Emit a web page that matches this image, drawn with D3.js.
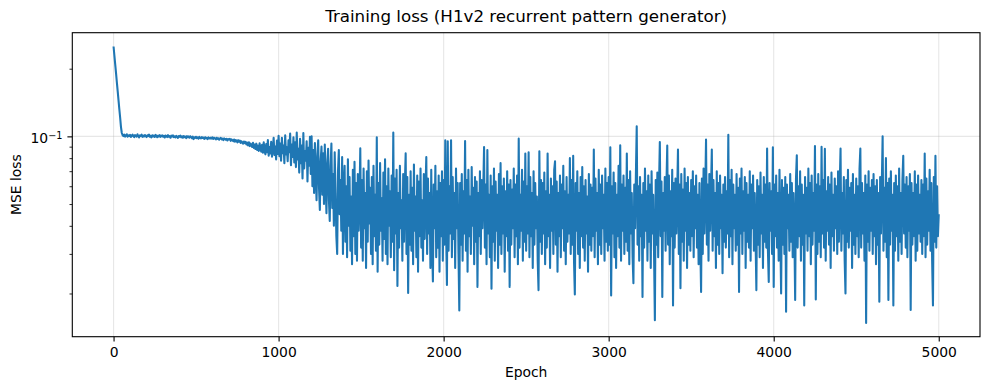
<!DOCTYPE html>
<html>
<head>
<meta charset="utf-8">
<script src="https://cdn.jsdelivr.net/npm/d3@7"></script>
<style>
	body { margin: 0; background: #fff; }
	svg { display: block; font-family: 'DejaVu Sans', sans-serif; }
</style>
</head>
<body>
<div id="chart"></div>
<script>
// Training loss, log scale

// one value every 5 epochs, epoch 0 .. 5000, one row = 100 epochs
var epochStep = 5;
var loss = [
	0.251, 0.229, 0.209, 0.191, 0.174, 0.159, 0.145, 0.132, 0.121, 0.110, 0.1035, 0.1012, 0.1003, 0.1018, 0.0998, 0.1009, 0.1022, 0.0996, 0.1011, 0.1003,
	0.1016, 0.0994, 0.1007, 0.1019, 0.1001, 0.0992, 0.1013, 0.1005, 0.0997, 0.1021, 0.1002, 0.0990, 0.1010, 0.1004, 0.1017, 0.0995, 0.1008, 0.0999, 0.1014, 0.1001,
	0.0993, 0.1011, 0.1003, 0.1018, 0.0996, 0.1006, 0.0989, 0.1012, 0.1000, 0.1009, 0.0994, 0.1015, 0.1002, 0.0991, 0.1008, 0.0999, 0.1013, 0.0995, 0.1004, 0.1010,
	0.0997, 0.1006, 0.0988, 0.1009, 0.1001, 0.0993, 0.1012, 0.0996, 0.1003, 0.0986, 0.1007, 0.0998, 0.1010, 0.0992, 0.1001, 0.0989, 0.1005, 0.0997, 0.0984, 0.1003,
	0.0995, 0.1008, 0.0990, 0.1000, 0.0986, 0.1004, 0.0993, 0.0998, 0.0983, 0.1002, 0.0991, 0.0999, 0.0987, 0.1001, 0.0994, 0.0981, 0.0997, 0.0972, 0.0989, 0.0985,
	0.0996, 0.0982, 0.0990, 0.0978, 0.0994, 0.0985, 0.0979, 0.0992, 0.0983, 0.0988, 0.0975, 0.0991, 0.0980, 0.0986, 0.0973, 0.0989, 0.0981, 0.0976, 0.0987, 0.0978,
	0.0990, 0.0974, 0.0984, 0.0979, 0.0969, 0.0986, 0.0975, 0.0981, 0.0966, 0.0978, 0.0984, 0.0970, 0.0977, 0.0963, 0.0980, 0.0971, 0.0966, 0.0976, 0.0959, 0.0972,
	0.0968, 0.0975, 0.0955, 0.0970, 0.0961, 0.0952, 0.0968, 0.0947, 0.0963, 0.0954, 0.0941, 0.0962, 0.0946, 0.0957, 0.0935, 0.0951, 0.0940, 0.0928, 0.0949, 0.0933,
	0.0945, 0.0921, 0.0938, 0.0912, 0.0942, 0.0905, 0.0930, 0.0915, 0.0897, 0.0936, 0.0889, 0.0920, 0.0878, 0.0928, 0.0870, 0.0909, 0.0862, 0.0931, 0.0881, 0.0855,
	0.0918, 0.0846, 0.0940, 0.0860, 0.0832, 0.0925, 0.0851, 0.0962, 0.0820, 0.0897, 0.0840, 0.0945, 0.0812, 0.0875, 0.0985, 0.0826, 0.0900, 0.0790, 0.0958, 0.0835,
	0.1005, 0.0815, 0.0930, 0.0780, 0.0985, 0.0842, 0.0910, 0.0760, 0.1010, 0.0830, 0.0895, 0.0775, 0.0960, 0.0850, 0.1030, 0.0745, 0.0920, 0.0810, 0.0990, 0.0765,
	0.0940, 0.0730, 0.1040, 0.0790, 0.0880, 0.0690, 0.0975, 0.0760, 0.0910, 0.0650, 0.1035, 0.0720, 0.0860, 0.0780, 0.0950, 0.0630, 0.0890, 0.0740, 0.0995, 0.0680,
	0.1000, 0.0600, 0.0870, 0.0560, 0.0935, 0.0680, 0.0520, 0.0820, 0.0960, 0.0590, 0.0470, 0.0780, 0.0900, 0.0550, 0.0840, 0.0500, 0.0920, 0.0620, 0.0455, 0.0760,
	0.0880, 0.0520, 0.0420, 0.0740, 0.0930, 0.0480, 0.0680, 0.0400, 0.0850, 0.0560, 0.0360, 0.0300, 0.0700, 0.0870, 0.0450, 0.0640, 0.0380, 0.0810, 0.0300, 0.0600,
	0.0740, 0.0340, 0.0600, 0.0290, 0.0790, 0.0400, 0.0660, 0.0310, 0.0540, 0.0270, 0.0710, 0.0360, 0.0770, 0.0300, 0.0620, 0.0280, 0.0680, 0.0380, 0.0520, 0.0885,
	0.0320, 0.0640, 0.0280, 0.0720, 0.0390, 0.0560, 0.0260, 0.0700, 0.0340, 0.0780, 0.0410, 0.0590, 0.0300, 0.0660, 0.0270, 0.0740, 0.0360, 0.0550, 0.0310, 0.0990,
	0.0250, 0.0620, 0.0330, 0.0760, 0.0380, 0.0530, 0.0280, 0.0690, 0.0350, 0.0790, 0.0300, 0.0600, 0.0270, 0.0720, 0.0400, 0.0570, 0.0290, 0.0670, 0.0340, 0.1040,
	0.0254, 0.0650, 0.0370, 0.0710, 0.0216, 0.0560, 0.0320, 0.0740, 0.0390, 0.0520, 0.0280, 0.0680, 0.0340, 0.0610, 0.0840, 0.0300, 0.0660, 0.0201, 0.0550, 0.0330,
	0.0700, 0.0310, 0.0590, 0.0270, 0.0750, 0.0380, 0.0540, 0.0290, 0.0670, 0.0250, 0.0630, 0.0360, 0.0720, 0.0320, 0.0520, 0.0280, 0.0680, 0.0350, 0.0580, 0.0810,
	0.0300, 0.0650, 0.0370, 0.0560, 0.0260, 0.0710, 0.0330, 0.0226, 0.0610, 0.0390, 0.0740, 0.0290, 0.0570, 0.0320, 0.0670, 0.0250, 0.0620, 0.0360, 0.0700, 0.0280,
	0.0640, 0.0330, 0.0960, 0.0380, 0.0218, 0.0950, 0.0310, 0.0600, 0.0370, 0.0960, 0.0290, 0.0660, 0.0350, 0.0560, 0.0260, 0.0720, 0.0390, 0.0620, 0.0300, 0.0168,
	0.0620, 0.0330, 0.0680, 0.0280, 0.0570, 0.0370, 0.0953, 0.0310, 0.0640, 0.0250, 0.0710, 0.0360, 0.0540, 0.0300, 0.0730, 0.0400, 0.0590, 0.0270, 0.0660, 0.0340,
	0.0630, 0.0214, 0.0560, 0.0360, 0.0700, 0.0300, 0.0640, 0.0390, 0.0580, 0.0897, 0.0320, 0.0610, 0.0270, 0.0870, 0.0370, 0.0550, 0.0290, 0.0670, 0.0210, 0.0600,
	0.0340, 0.0720, 0.0280, 0.0630, 0.0380, 0.0550, 0.0260, 0.0680, 0.0330, 0.0760, 0.0300, 0.0600, 0.0370, 0.0650, 0.0250, 0.0570, 0.0360, 0.0700, 0.0310, 0.0610,
	0.0214, 0.0640, 0.0330, 0.0580, 0.0390, 0.0720, 0.0290, 0.0610, 0.0360, 0.0670, 0.0270, 0.0977, 0.0320, 0.0550, 0.0380, 0.0710, 0.0280, 0.0630, 0.0340, 0.0838,
	0.0310, 0.0600, 0.0370, 0.0850, 0.0290, 0.0660, 0.0360, 0.0560, 0.0260, 0.0700, 0.0330, 0.0620, 0.0390, 0.0540, 0.0280, 0.0207, 0.0858, 0.0340, 0.0640, 0.0300,
	0.0620, 0.0370, 0.0690, 0.0270, 0.0570, 0.0320, 0.0838, 0.0360, 0.0550, 0.0260, 0.0650, 0.0380, 0.0600, 0.0300, 0.0710, 0.0774, 0.0330, 0.0630, 0.0250, 0.0560,
	0.0360, 0.0670, 0.0290, 0.0610, 0.0390, 0.0740, 0.0310, 0.0570, 0.0270, 0.0660, 0.0340, 0.0550, 0.0370, 0.0800, 0.0300, 0.0640, 0.0330, 0.0820, 0.0280, 0.0198,
	0.0620, 0.0380, 0.0700, 0.0300, 0.0560, 0.0260, 0.0660, 0.0360, 0.0730, 0.0320, 0.0600, 0.0280, 0.0640, 0.0370, 0.0540, 0.0250, 0.0680, 0.0330, 0.0610, 0.0310,
	0.0590, 0.0360, 0.0873, 0.0290, 0.0650, 0.0380, 0.0560, 0.0270, 0.0710, 0.0330, 0.0610, 0.0300, 0.0670, 0.0390, 0.0550, 0.0280, 0.0720, 0.0340, 0.0620, 0.0310,
	0.0660, 0.0330, 0.0895, 0.0196, 0.0600, 0.0370, 0.0690, 0.0290, 0.0620, 0.0260, 0.0550, 0.0360, 0.0740, 0.0320, 0.0912, 0.0280, 0.0610, 0.0380, 0.0670, 0.0300,
	0.0590, 0.0340, 0.0838, 0.0310, 0.0640, 0.0270, 0.0700, 0.0370, 0.0560, 0.0290, 0.0222, 0.0610, 0.0390, 0.0680, 0.1110, 0.0330, 0.0600, 0.0280, 0.0660, 0.0360,
	0.0550, 0.0193, 0.0620, 0.0320, 0.0720, 0.0380, 0.0570, 0.0280, 0.0670, 0.0340, 0.0610, 0.0260, 0.0700, 0.0370, 0.0550, 0.0300, 0.0152, 0.0640, 0.0330, 0.0690,
	0.0290, 0.0600, 0.0943, 0.0360, 0.0630, 0.0193, 0.0560, 0.0380, 0.0660, 0.0310, 0.0610, 0.0910, 0.0330, 0.0670, 0.0270, 0.0570, 0.0360, 0.0710, 0.0177, 0.0620,
	0.0320, 0.0650, 0.0370, 0.0550, 0.0873, 0.0300, 0.0610, 0.0211, 0.0680, 0.0340, 0.0580, 0.0280, 0.0720, 0.0380, 0.0620, 0.0260, 0.0660, 0.0330, 0.0560, 0.0310,
	0.0640, 0.0360, 0.0700, 0.0290, 0.0600, 0.0390, 0.0670, 0.0320, 0.0550, 0.0270, 0.0620, 0.0340, 0.0203, 0.0650, 0.0300, 0.0720, 0.0370, 0.0570, 0.0967, 0.0330,
	0.0610, 0.0280, 0.0680, 0.0380, 0.0580, 0.0873, 0.0310, 0.0640, 0.0360, 0.0560, 0.0260, 0.0700, 0.0330, 0.0620, 0.0300, 0.0670, 0.0390, 0.0550, 0.0246, 0.0610,
	0.0340, 0.0660, 0.0320, 0.0570, 0.0370, 0.1017, 0.0290, 0.0640, 0.0360, 0.0710, 0.0270, 0.0610, 0.0390, 0.0550, 0.0310, 0.0680, 0.0330, 0.0590, 0.0203, 0.0650,
	0.0370, 0.0720, 0.0300, 0.0570, 0.0380, 0.0660, 0.0260, 0.0620, 0.0340, 0.0550, 0.0320, 0.0700, 0.0280, 0.0610, 0.0390, 0.0670, 0.0310, 0.0560, 0.0350, 0.0207,
	0.0640, 0.0330, 0.0600, 0.0290, 0.0690, 0.0370, 0.0550, 0.0260, 0.0660, 0.0340, 0.0610, 0.0320, 0.0882, 0.0310, 0.0225, 0.0620, 0.0380, 0.0570, 0.0300, 0.0895,
	0.0214, 0.0610, 0.0360, 0.0670, 0.0320, 0.0560, 0.0280, 0.0710, 0.0370, 0.0200, 0.0640, 0.0330, 0.0590, 0.0300, 0.0660, 0.0166, 0.0610, 0.0390, 0.0550, 0.0310,
	0.0680, 0.0340, 0.0620, 0.0290, 0.0560, 0.0380, 0.0187, 0.0650, 0.0823, 0.0320, 0.0600, 0.0360, 0.0700, 0.0280, 0.0610, 0.0330, 0.0550, 0.0177, 0.0660, 0.0370,
	0.0590, 0.0310, 0.0720, 0.0360, 0.0620, 0.0270, 0.0670, 0.0330, 0.0560, 0.0380, 0.0906, 0.0188, 0.0610, 0.0300, 0.0680, 0.0340, 0.0600, 0.0290, 0.0898, 0.0370,
	0.0640, 0.0320, 0.0880, 0.0280, 0.0570, 0.0380, 0.0660, 0.0330, 0.0610, 0.0260, 0.0690, 0.0360, 0.0550, 0.0310, 0.0650, 0.0390, 0.0600, 0.0300, 0.0700, 0.0340,
	0.0610, 0.0882, 0.0310, 0.0560, 0.0370, 0.0660, 0.0280, 0.0200, 0.0640, 0.0340, 0.0710, 0.0320, 0.0590, 0.0380, 0.0620, 0.0260, 0.0680, 0.0330, 0.0550, 0.0300,
	0.0650, 0.0360, 0.0600, 0.0290, 0.0720, 0.0882, 0.0320, 0.0620, 0.0370, 0.0560, 0.0280, 0.0670, 0.0148, 0.0610, 0.0340, 0.0700, 0.0310, 0.0590, 0.0380, 0.0640,
	0.0300, 0.0680, 0.0360, 0.0600, 0.0270, 0.0640, 0.0330, 0.0560, 0.0184, 0.0660, 0.0370, 0.0610, 0.1000, 0.0310, 0.0590, 0.0340, 0.0800, 0.0290, 0.0620, 0.0187,
	0.0650, 0.0330, 0.0700, 0.0380, 0.0550, 0.0177, 0.0620, 0.0310, 0.0670, 0.0360, 0.0600, 0.0280, 0.0720, 0.0340, 0.0560, 0.0300, 0.0640, 0.0820, 0.0370, 0.0610,
	0.0320, 0.0660, 0.0290, 0.0600, 0.0380, 0.0680, 0.0169, 0.0620, 0.0330, 0.0560, 0.0360, 0.0700, 0.0280, 0.0610, 0.0310, 0.0670, 0.0370, 0.0550, 0.0340, 0.0640,
	0.0300, 0.0610, 0.0360, 0.0838, 0.0290, 0.0650, 0.0330, 0.0570, 0.0380, 0.0710, 0.0310, 0.0620, 0.0280, 0.0177, 0.0660, 0.0340, 0.0820, 0.0320, 0.0600, 0.0360,
	0.0450
];

var xTicks = [0, 1000, 2000, 3000, 4000, 5000];
var yMajorTicks = [0.1];
var yMinorTicks = [0.02, 0.03, 0.04, 0.05, 0.06, 0.07, 0.08, 0.09, 0.2];

var title = 'Training loss (H1v2 recurrent pattern generator)',
	xLabel = 'Epoch',
	yLabel = 'MSE loss';

var width = 989,
	height = 390,
	margin = {top: 32.7, right: 9, bottom: 53.3, left: 72.3},
	innerW = width - margin.left - margin.right,
	innerH = height - margin.top - margin.bottom,
	lineColor = '#1f77b4';

var svg = d3.select('#chart').append('svg')
	.attr('width', width)
	.attr('height', height);

var g = svg.append('g')
	.attr('transform', 'translate(' + margin.left + ',' + margin.top + ')');

// matplotlib style 5% margins (in log space for y)
var lastEpoch = (loss.length - 1) * epochStep;
var xPad = lastEpoch * 0.05;
var x = d3.scaleLinear()
	.domain([-xPad, lastEpoch + xPad])
	.range([0, innerW]);

var ext = d3.extent(loss),
	lmin = Math.log10(ext[0]),
	lmax = Math.log10(ext[1]),
	lpad = (lmax - lmin) * 0.05;
var y = d3.scaleLog()
	.domain([Math.pow(10, lmin - lpad), Math.pow(10, lmax + lpad)])
	.range([innerH, 0]);

// grid
g.append('g').selectAll('line')
	.data(xTicks).enter().append('line')
	.attr('x1', function(d) { return x(d); })
	.attr('x2', function(d) { return x(d); })
	.attr('y1', 0).attr('y2', innerH)
	.attr('stroke', '#b0b0b0').attr('stroke-opacity', 0.3).attr('stroke-width', 1.1);

g.append('g').selectAll('line')
	.data(yMajorTicks).enter().append('line')
	.attr('x1', 0).attr('x2', innerW)
	.attr('y1', function(d) { return y(d); })
	.attr('y2', function(d) { return y(d); })
	.attr('stroke', '#b0b0b0').attr('stroke-opacity', 0.3).attr('stroke-width', 1.1);

// the loss line
var line = d3.line()
	.x(function(d, i) { return x(i * epochStep); })
	.y(function(d) { return y(d); });

g.append('path')
	.datum(loss)
	.attr('d', line)
	.attr('fill', 'none')
	.attr('stroke', lineColor)
	.attr('stroke-width', 2.08)
	.attr('stroke-linejoin', 'round');

// axes
var xAxis = g.append('g')
	.attr('transform', 'translate(0,' + innerH + ')')
	.call(d3.axisBottom(x).tickValues(xTicks).tickSize(4.9).tickPadding(5.6).tickFormat(d3.format('d')));

var yMinor = g.append('g')
	.call(d3.axisLeft(y).tickValues(yMinorTicks).tickSize(2.8).tickFormat(''));

var yAxis = g.append('g')
	.call(d3.axisLeft(y).tickValues(yMajorTicks).tickSize(4.9).tickPadding(4.9).tickFormat(function() { return ''; }));

[xAxis, yMinor, yAxis].forEach(function(a) {
	a.select('.domain').remove();
	a.selectAll('.tick line').attr('stroke', '#000').attr('stroke-width', 1.1);
	a.selectAll('text').attr('fill', '#000').style('font-size', '13.9px').style('font-family', "'DejaVu Sans', sans-serif");
});
yMinor.selectAll('.tick line').attr('stroke-width', 0.83);

// 10^-1 label
yAxis.selectAll('.tick text')
	.attr('dy', '0.47em')
	.each(function(d) {
		var t = d3.select(this);
		var p = Math.round(Math.log10(d));
		t.text(null);
		t.append('tspan').text('10');
		t.append('tspan').attr('dy', -4.6).style('font-size', '9.7px').text('\u2212' + Math.abs(p));
	});

// frame
g.append('rect')
	.attr('width', innerW)
	.attr('height', innerH)
	.attr('fill', 'none')
	.attr('stroke', '#000')
	.attr('stroke-width', 1.1);

// labels
svg.append('text')
	.attr('x', margin.left + innerW / 2)
	.attr('y', 21.5)
	.attr('text-anchor', 'middle')
	.style('font-size', '16.7px')
	.text(title);

svg.append('text')
	.attr('x', margin.left + innerW / 2)
	.attr('y', 377)
	.attr('text-anchor', 'middle')
	.style('font-size', '13.9px')
	.text(xLabel);

svg.append('text')
	.attr('transform', 'translate(20.5,' + (margin.top + innerH / 2) + ') rotate(-90)')
	.attr('text-anchor', 'middle')
	.style('font-size', '13.9px')
	.text(yLabel);
</script>
</body>
</html>
